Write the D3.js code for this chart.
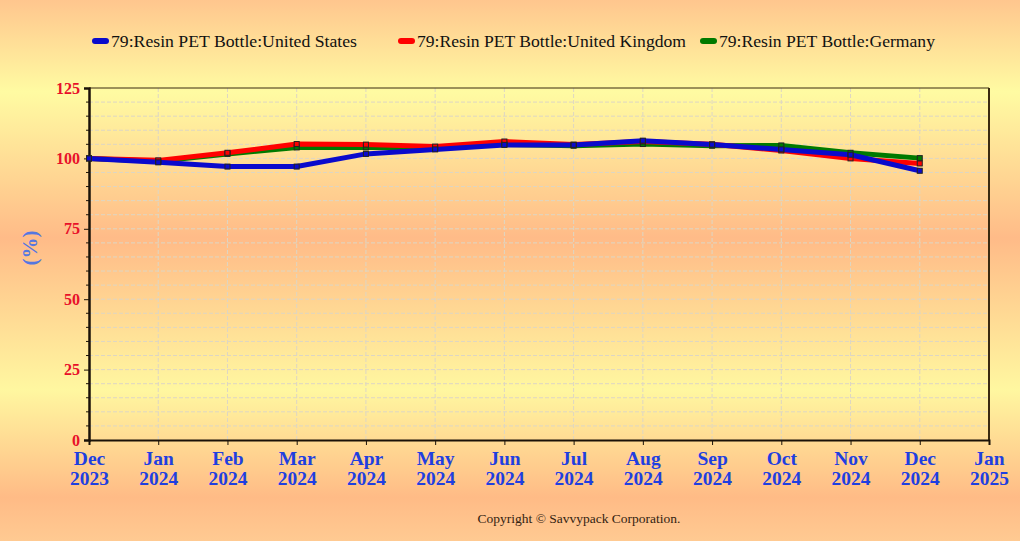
<!DOCTYPE html>
<html>
<head>
<meta charset="utf-8">
<script src="https://cdn.jsdelivr.net/npm/d3@7"></script>
<style>
  html, body { margin: 0; padding: 0; }
  body { width: 1020px; height: 541px; overflow: hidden; }
  text { font-family: "Liberation Serif", "Times New Roman", serif; }
</style>
</head>
<body>
<svg id="chart" width="1020" height="541"></svg>
<script>
// month axis labels (Dec 2023 .. Jan 2025)
const months = ['Dec 2023','Jan 2024','Feb 2024','Mar 2024','Apr 2024','May 2024','Jun 2024',
                'Jul 2024','Aug 2024','Sep 2024','Oct 2024','Nov 2024','Dec 2024','Jan 2025'];
const yTicks = [0, 25, 50, 75, 100, 125];

// index values (%), Dec 2023 .. Dec 2024
const usValues = [100, 98.6, 97.1, 97.1, 101.6, 103.2, 104.8, 104.8, 106.3, 104.9, 103.2, 101.3, 95.6];
const ukValues = [100, 99.3, 102.0, 105.1, 104.9, 104.2, 106.0, 104.9, 106.0, 105.0, 102.8, 100.0, 98.2];
const deValues = [100, 99.0, 101.6, 103.9, 103.9, 103.8, 105.0, 104.5, 105.1, 104.5, 104.6, 102.0, 100.1];

const seriesNames = ['79:Resin PET Bottle:United States', '79:Resin PET Bottle:United Kingdom', '79:Resin PET Bottle:Germany'];
const seriesColors = ['#0a0acc', '#ff0000', '#007a00'];
const seriesValues = [usValues, ukValues, deValues];

;(function(){
  const svg = d3.select('#chart');
  const margin = { left: 89, right: 31, top: 88, bottom: 101 };
  const W = 1020, H = 541;

  // background gradient
  const defs = svg.append('defs');
  const grad = defs.append('linearGradient')
    .attr('id', 'bg').attr('x1', 0).attr('y1', 0).attr('x2', 0).attr('y2', 1);
  [[0, '#ffc68e'], [0.17, '#fffba2'], [0.44, '#ffbb88'], [0.72, '#fff7a0'], [0.92, '#ffbb86'], [1, '#ffca92']]
    .forEach(([o, c]) => grad.append('stop').attr('offset', o).attr('stop-color', c));
  svg.append('rect').attr('width', W).attr('height', H).attr('fill', 'url(#bg)');

  const x = d3.scalePoint().domain(months).range([margin.left, W - margin.right]);
  const y = d3.scaleLinear().domain([0, 125]).range([H - margin.bottom, margin.top]);

  // grid
  const grid = svg.append('g').attr('stroke', '#ddd6c4').attr('stroke-dasharray', '4,2').attr('stroke-width', 1);
  d3.range(5, 125, 5).forEach(v => {
    grid.append('line').attr('x1', margin.left).attr('x2', W - margin.right)
      .attr('y1', y(v)).attr('y2', y(v));
  });
  months.slice(1, -1).forEach(m => {
    grid.append('line').attr('x1', x(m)).attr('x2', x(m))
      .attr('y1', margin.top).attr('y2', H - margin.bottom);
  });

  // frame
  svg.append('line').attr('x1', margin.left).attr('x2', W - margin.right)
    .attr('y1', margin.top).attr('y2', margin.top).attr('stroke', '#3a2a10').attr('stroke-width', 1);
  svg.append('line').attr('x1', W - margin.right).attr('x2', W - margin.right)
    .attr('y1', margin.top).attr('y2', H - margin.bottom).attr('stroke', '#3a2a10').attr('stroke-width', 2);

  // y axis
  const yAxis = svg.append('g').attr('transform', `translate(${margin.left},0)`)
    .call(d3.axisLeft(y).tickValues(yTicks).tickSize(5).tickPadding(4));
  yAxis.select('.domain').attr('stroke', '#1a1208').attr('stroke-width', 2.5);
  yAxis.selectAll('.tick line').attr('stroke', '#1a1208');
  yAxis.selectAll('.tick text')
    .attr('fill', '#e8102a').style('font-size', '16px').style('font-weight', 'bold')
    .style('font-family', '"Liberation Serif", serif');
  // minor ticks
  svg.append('g').selectAll('line')
    .data(d3.range(5, 125, 5).filter(v => v % 25 !== 0))
    .join('line')
    .attr('x1', margin.left - 3).attr('x2', margin.left)
    .attr('y1', d => y(d)).attr('y2', d => y(d))
    .attr('stroke', '#1a1208');

  // x axis
  const xAxis = svg.append('g').attr('transform', `translate(0,${H - margin.bottom})`)
    .call(d3.axisBottom(x).tickSize(5).tickFormat(''));
  xAxis.select('.domain').attr('stroke', '#1a1208').attr('stroke-width', 2);
  xAxis.selectAll('.tick line').attr('stroke', '#1a1208');
  xAxis.selectAll('.tick').each(function(m) {
    const parts = m.split(' ');
    const t = d3.select(this).append('text')
      .attr('fill', '#1f3fe0').attr('text-anchor', 'middle')
      .style('font-size', '19.5px').style('font-weight', 'bold')
      .style('font-family', '"Liberation Serif", serif');
    t.append('tspan').attr('x', 0).attr('y', 25).text(parts[0]);
    t.append('tspan').attr('x', 0).attr('y', 45).text(parts[1]);
  });

  // y axis title
  svg.append('text')
    .attr('transform', `translate(37,248) rotate(-90)`)
    .attr('text-anchor', 'middle')
    .attr('fill', '#5577e0').style('font-size', '21px').style('font-weight', 'bold')
    .text('(%)');

  // lines, drawn Germany first so US sits on top
  const line = d3.line().x((d, i) => x(months[i])).y(d => y(d));
  [2, 1, 0].forEach(k => {
    svg.append('path').datum(seriesValues[k])
      .attr('d', line).attr('fill', 'none')
      .attr('stroke', seriesColors[k]).attr('stroke-width', 5)
      .attr('stroke-linejoin', 'round');
  });
  [2, 1, 0].forEach(k => {
    svg.append('g').selectAll('rect').data(seriesValues[k]).join('rect')
      .attr('x', (d, i) => x(months[i]) - 2.5).attr('y', d => y(d) - 2.5)
      .attr('width', 5).attr('height', 5)
      .attr('fill', seriesColors[k]).attr('stroke', '#222').attr('stroke-width', 1);
  });

  // legend
  const legendX = [93, 399, 701];
  const legendLen = [246, 269, 216];
  seriesNames.forEach((name, k) => {
    const g = svg.append('g').attr('transform', `translate(${legendX[k]},41)`);
    g.append('line').attr('x1', 2).attr('x2', 13).attr('y1', 0).attr('y2', 0)
      .attr('stroke', seriesColors[k]).attr('stroke-width', 6).attr('stroke-linecap', 'round');
    g.append('text').attr('x', 18).attr('y', 6)
      .attr('fill', '#111').style('font-size', '17px')
      .attr('textLength', legendLen[k]).attr('lengthAdjust', 'spacingAndGlyphs')
      .text(name);
  });

  // copyright
  svg.append('text').attr('x', 579).attr('y', 523).attr('text-anchor', 'middle')
    .attr('fill', '#332211').style('font-size', '13.5px')
    .text('Copyright © Savvypack Corporation.');
})();
</script>
</body>
</html>
